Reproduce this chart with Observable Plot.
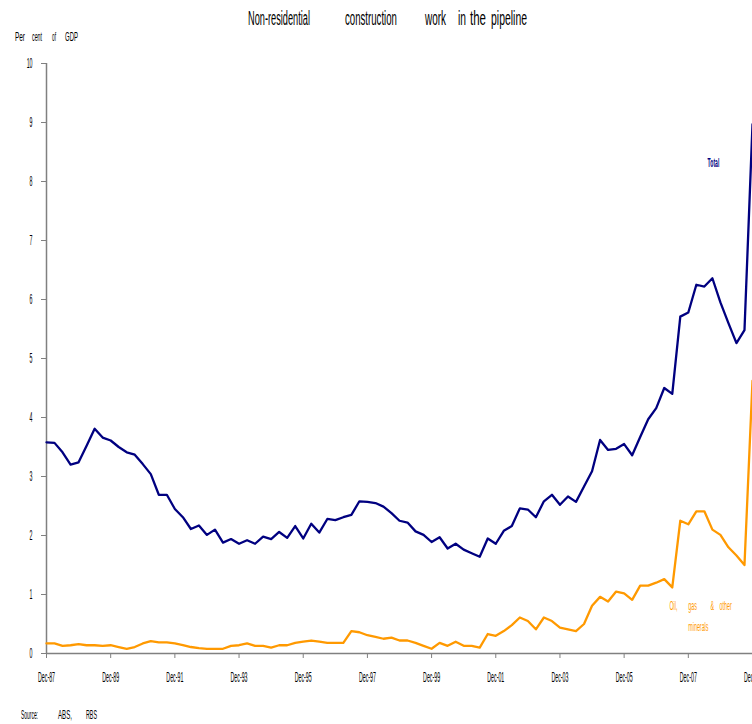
<!DOCTYPE html>
<html>
<head>
<meta charset="utf-8">
<script src="https://cdn.jsdelivr.net/npm/d3@7"></script>
<script src="https://cdn.jsdelivr.net/npm/@observablehq/plot@0.6"></script>
<style>
  html, body { margin: 0; padding: 0; background: #fff; }
  #wrap { position: relative; width: 752px; height: 724px; overflow: hidden; }
  #chart, #overlay { position: absolute; left: 0; top: 0; }
  #overlay { pointer-events: none; }
</style>
</head>
<body>
<div id="wrap">
  <div id="chart"></div>
  <svg id="overlay" width="752" height="724"></svg>
</div>
<script>
// Quarterly, Dec-87 (index 0) to Dec-09 (index 88)
const total = [
  3.58, 3.57, 3.41, 3.20, 3.24, 3.52, 3.81, 3.66, 3.61, 3.50,
  3.41, 3.37, 3.21, 3.04, 2.69, 2.69, 2.45, 2.31, 2.11, 2.17,
  2.01, 2.10, 1.88, 1.94, 1.86, 1.92, 1.86, 1.98, 1.94, 2.06,
  1.96, 2.16, 1.95, 2.20, 2.05, 2.28, 2.26, 2.31, 2.35, 2.58,
  2.57, 2.55, 2.49, 2.38, 2.25, 2.22, 2.07, 2.01, 1.89, 1.97,
  1.78, 1.86, 1.76, 1.70, 1.64, 1.95, 1.86, 2.08, 2.16, 2.46,
  2.44, 2.31, 2.58, 2.69, 2.52, 2.66, 2.57, 2.83, 3.09, 3.62,
  3.45, 3.47, 3.55, 3.36, 3.67, 3.97, 4.16, 4.50, 4.40, 5.71,
  5.78, 6.25, 6.22, 6.36, 5.95, 5.60, 5.26, 5.48, 8.97
];
const oilGasMinerals = [
  0.17, 0.17, 0.13, 0.14, 0.16, 0.14, 0.14, 0.13, 0.14, 0.11,
  0.08, 0.11, 0.17, 0.21, 0.19, 0.19, 0.17, 0.14, 0.11, 0.09,
  0.08, 0.08, 0.08, 0.13, 0.14, 0.17, 0.13, 0.13, 0.10, 0.14,
  0.14, 0.18, 0.20, 0.22, 0.20, 0.18, 0.18, 0.18, 0.38, 0.36,
  0.31, 0.28, 0.25, 0.27, 0.22, 0.22, 0.18, 0.13, 0.08, 0.18,
  0.13, 0.20, 0.13, 0.13, 0.10, 0.33, 0.30, 0.38, 0.48, 0.61,
  0.55, 0.41, 0.61, 0.55, 0.44, 0.41, 0.38, 0.50, 0.81, 0.96,
  0.88, 1.05, 1.02, 0.91, 1.15, 1.15, 1.20, 1.26, 1.12, 2.25,
  2.19, 2.41, 2.41, 2.10, 2.01, 1.80, 1.66, 1.50, 4.62
];
const xTickPos = [0, 8, 16, 24, 32, 40, 48, 56, 64, 72, 80, 88];
const xTickLabels = ["Dec-87", "Dec-89", "Dec-91", "Dec-93", "Dec-95", "Dec-97", "Dec-99", "Dec-01", "Dec-03", "Dec-05", "Dec-07", "Dec-09"];
const yTicks = [0, 1, 2, 3, 4, 5, 6, 7, 8, 9, 10];
const totalLabel = [{x: 82.4, y: 8.32, text: "Total"}];
const oilLabel = [
  {x: 77.65, y: 0.81, text: "Oil,"},
  {x: 80.0, y: 0.81, text: "gas"},
  {x: 82.75, y: 0.81, text: "&"},
  {x: 83.9, y: 0.81, text: "other"},
  {x: 80.0, y: 0.45, text: "minerals"}
];
const titleWords = ["Non-residential", "construction", "work", "in", "the", "pipeline"];
const yLabelWords = ["Per", "cent", "of", "GDP"];
const sourceWords = ["Source:", "ABS,", "RBS"];

const FONT = '"Liberation Sans", Arial, sans-serif';
const totalData = total.map((v, i) => ({q: i, v}));
const oilData = oilGasMinerals.map((v, i) => ({q: i, v}));
const labelOf = new Map(xTickPos.map((p, i) => [p, xTickLabels[i]]));

const chart = Plot.plot({
  width: 752,
  height: 724,
  marginLeft: 46,
  marginRight: 0,
  marginTop: 63,
  marginBottom: 71,
  style: {fontFamily: FONT, fontSize: "14px", background: "transparent", overflow: "visible"},
  x: {domain: [0, 88], axis: null},
  y: {domain: [0, 10], axis: null},
  marks: [
    Plot.axisY({ticks: yTicks, tickSize: 5, tickPadding: 9, stroke: "#808080", fill: "#000", label: null, tickFormat: d => String(d), fontSize: 14}),
    Plot.axisX({ticks: xTickPos, tickSize: 5, tickPadding: 14, stroke: "#808080", fill: "#000", label: null, tickFormat: d => labelOf.get(d), fontSize: 14}),
    Plot.ruleY([0], {stroke: "#808080", strokeWidth: 1.5}),
    Plot.ruleX([0], {stroke: "#808080", strokeWidth: 1.5}),
    Plot.line(oilData, {x: "q", y: "v", stroke: "#FF9900", strokeWidth: 2.3}),
    Plot.line(totalData, {x: "q", y: "v", stroke: "#000080", strokeWidth: 2.3}),
    Plot.text(totalLabel, {x: "x", y: "y", text: "text", fill: "#000080", fontSize: 13, fontWeight: "bold", textAnchor: "start"}),
    Plot.text(oilLabel, {x: "x", y: "y", text: "text", fill: "#FF9900", fontSize: 13, textAnchor: "start"})
  ]
});
document.getElementById("chart").appendChild(chart);

// Condense every text of the chart (the reference uses a very narrow face)
const ctx = document.createElement("canvas").getContext("2d");
function measure(str, size, weight) {
  ctx.font = `${weight} ${size}px "Liberation Sans", Arial, sans-serif`;
  return ctx.measureText(str).width;
}
const oilWords = new Set(oilLabel.map(d => d.text));
d3.select(chart).selectAll("text").each(function() {
  const str = this.textContent;
  if (!str) return;
  let size = 14, weight = "normal", k = 0.377;
  if (str === "Total") { size = 13; weight = "bold"; k = 0.39; }
  else if (oilWords.has(str)) { size = 13; k = 0.41; }
  const len = measure(str, size, weight) * k;
  this.setAttribute("textLength", len.toFixed(2));
  this.setAttribute("lengthAdjust", "spacingAndGlyphs");
});

// Title, y-axis unit and source as condensed text (scaled horizontally)
const ov = d3.select("#overlay");
function words(list, xs, widths, baseline, size) {
  list.forEach((w, i) => {
    const k = widths[i] / measure(w, size, "normal");
    ov.append("text")
      .attr("transform", `translate(${xs[i]},${baseline}) scale(${k.toFixed(4)},1)`)
      .attr("font-family", FONT).attr("font-size", size)
      .text(w);
  });
}
words(titleWords, [248, 345, 425, 458, 470, 491], [62, 52, 21, 8, 16, 36], 25, 21);
words(yLabelWords, [15, 32, 52, 65], [10, 10, 4, 13], 41, 12);
words(sourceWords, [21, 58, 86], [17, 14, 11], 719, 13);
</script>
</body>
</html>
